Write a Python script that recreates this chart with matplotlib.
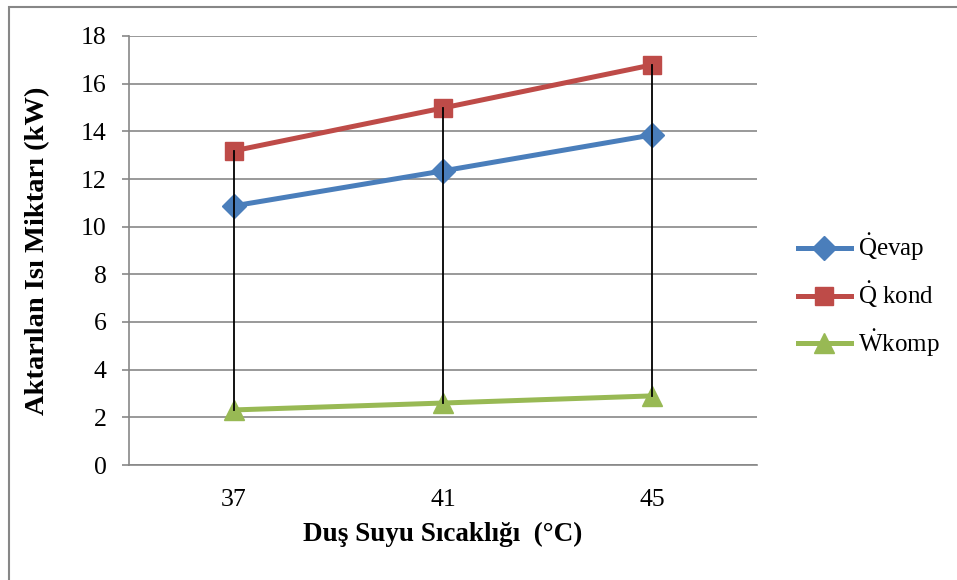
import matplotlib
matplotlib.use('Agg')
import matplotlib.pyplot as plt
from matplotlib.patches import Rectangle

plt.rcParams['font.family'] = ['Liberation Serif', 'DejaVu Serif']
plt.rcParams['mathtext.fontset'] = 'custom'
plt.rcParams['mathtext.rm'] = 'Liberation Serif'

# veriler
sicaklik = ['37', '41', '45']
q_evap = [10.87, 12.34, 13.85]
q_kond = [13.18, 14.98, 16.79]
w_komp = [2.31, 2.60, 2.90]
seri_adlari = [r'$\dot{\mathrm{Q}}$evap', r'$\dot{\mathrm{Q}}$ kond', r'$\dot{\mathrm{W}}$komp']

mavi = '#4A7EBB'
kirmizi = '#BE4B48'
yesil = '#98B954'
gri = '#878787'

fig = plt.figure(figsize=(9.57, 5.8), dpi=100)
ax = fig.add_axes([129 / 957, 1 - 465 / 580, 628 / 957, 429 / 580])

x = list(range(len(sicaklik)))

# yüksek-düşük çizgileri
for i in x:
    vals = [q_evap[i], q_kond[i], w_komp[i]]
    ax.plot([i, i], [min(vals), max(vals)], color='black', lw=1.3, zorder=6)

ax.plot(x, q_evap, color=mavi, lw=3.6, marker='D', ms=12, label=seri_adlari[0], zorder=4)
ax.plot(x, q_kond, color=kirmizi, lw=3.6, marker='s', ms=13, label=seri_adlari[1], zorder=4)
ax.plot(x, w_komp, color=yesil, lw=3.6, marker='^', ms=14, label=seri_adlari[2], zorder=4)

ax.set_xlim(-0.5, 2.5)
ax.set_ylim(0, 18)
ax.set_yticks(range(0, 19, 2))
ax.set_xticks(x)
ax.set_xticklabels(sicaklik)
ax.grid(axis='y', color=gri, lw=1.2)
ax.set_axisbelow(True)

for s in ['top', 'right']:
    ax.spines[s].set_visible(False)
for s in ['left', 'bottom']:
    ax.spines[s].set_color(gri)
    ax.spines[s].set_linewidth(1.2)

ax.tick_params(axis='y', length=5, width=1.2, color=gri, pad=11, labelsize=18.5)
ax.tick_params(axis='x', length=0, pad=17, labelsize=18.5)

ax.set_ylabel('Aktarılan Isı Miktarı (kW)', fontsize=20.5, fontweight='bold', va='center')
ax.yaxis.set_label_coords(-0.145, 0.5)
ax.set_xlabel('Duş Suyu Sıcaklığı  (°C)', fontsize=19.5, fontweight='bold', va='center')
ax.xaxis.set_label_coords(0.5, -0.163)

fig.legend(loc='center left', bbox_to_anchor=(798 / 957, 1 - 295 / 580),
           frameon=False, fontsize=18, handlelength=2.1, handletextpad=0.3,
           labelspacing=0.65, borderpad=0, borderaxespad=0)

# grafik alanı çerçevesi
fig.patches.append(Rectangle((8.5 / 957, -0.1), 1.2, 1.1 - 6.5 / 580,
                             transform=fig.transFigure, fill=False,
                             edgecolor=gri, lw=1.5))

fig.savefig('out.png', dpi=100, facecolor='white')
